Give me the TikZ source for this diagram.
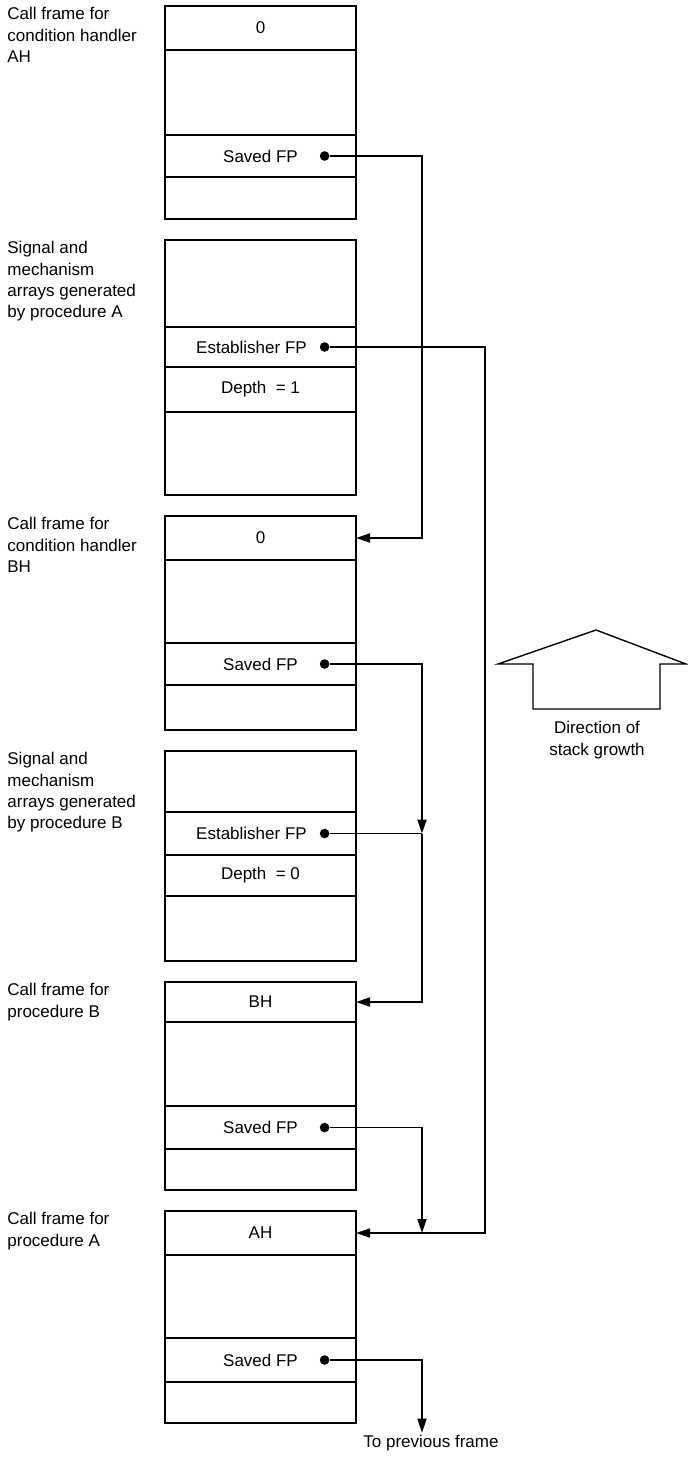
\documentclass[tikz,border=0pt]{standalone}
\usepackage{fontspec}
\setmainfont{Liberation Sans}
\usetikzlibrary{arrows.meta, positioning, calc}
\tikzset{
  cell/.style = {rectangle, draw, line width=0.9pt, minimum width=95.5pt,
                 inner sep=0pt, outer sep=0pt},
  lbl/.style  = {align=left, inner sep=0pt, anchor=north west},
  arr/.style  = {-{Triangle[length=7pt, width=4.5pt]}, line width=0.9pt},
  dot/.style  = {circle, fill, inner sep=0pt, minimum size=4.8pt},
}

\begin{document}
\begin{tikzpicture}[
  font=\fontsize{8.5}{10.7}\selectfont,
  node distance=10.5pt,
  link/.style={line width=0.9pt},
]
  \useasboundingbox (0,0) rectangle (343.5pt,-728.5pt);
  \coordinate (lx) at (3.5pt,0);

  % call frame for handler AH
  \node[cell, minimum height=22pt, anchor=north west] (ha1) at (82.5pt,-3pt) {0};
  \node[cell, minimum height=42.5pt, below=0pt of ha1] (ha2) {};
  \node[cell, minimum height=21pt, below=0pt of ha2] (ha3) {Saved FP};
  \node[cell, minimum height=21pt, below=0pt of ha3] (ha4) {};

  % signal/mechanism arrays of A
  \node[cell, minimum height=43.5pt, below=of ha4] (sa1) {};
  \node[cell, minimum height=20pt, below=0pt of sa1,
        label={[xshift=-4.5pt]center:Establisher FP}] (sa2) {};
  \node[cell, minimum height=22.5pt, below=0pt of sa2] (sa3) {Depth \ = 1};
  \node[cell, minimum height=41.5pt, below=0pt of sa3] (sa4) {};

  % call frame for handler BH
  \node[cell, minimum height=22pt, below=of sa4] (hb1) {0};
  \node[cell, minimum height=41.5pt, below=0pt of hb1] (hb2) {};
  \node[cell, minimum height=21pt, below=0pt of hb2] (hb3) {Saved FP};
  \node[cell, minimum height=22.5pt, below=0pt of hb3] (hb4) {};

  % signal/mechanism arrays of B
  \node[cell, minimum height=30.5pt, below=of hb4] (sb1) {};
  \node[cell, minimum height=21.5pt, below=0pt of sb1,
        label={[xshift=-4.5pt]center:Establisher FP}] (sb2) {};
  \node[cell, minimum height=20.5pt, below=0pt of sb2] (sb3) {Depth \ = 0};
  \node[cell, minimum height=32.5pt, below=0pt of sb3] (sb4) {};

  % call frame for procedure B
  \node[cell, minimum height=20pt, below=of sb4] (pb1) {BH};
  \node[cell, minimum height=42pt, below=0pt of pb1] (pb2) {};
  \node[cell, minimum height=21.5pt, below=0pt of pb2] (pb3) {Saved FP};
  \node[cell, minimum height=20.5pt, below=0pt of pb3] (pb4) {};

  % call frame for procedure A
  \node[cell, minimum height=22pt, below=of pb4] (pa1) {AH};
  \node[cell, minimum height=41.5pt, below=0pt of pa1] (pa2) {};
  \node[cell, minimum height=22pt, below=0pt of pa2] (pa3) {Saved FP};
  \node[cell, minimum height=20.5pt, below=0pt of pa3] (pa4) {};

  \node[lbl] (lha) at ([yshift=-0.5pt]ha1.north -| lx) {Call frame for\\condition handler\\AH};
  \node[lbl] (lsa) at ([yshift=-0.5pt]sa1.north -| lx) {Signal and\\mechanism\\arrays generated\\by procedure A};
  \node[lbl] (lhb) at ([yshift=-0.5pt]hb1.north -| lx) {Call frame for\\condition handler\\BH};
  \node[lbl] (lsb) at ([yshift=-0.5pt]sb1.north -| lx) {Signal and\\mechanism\\arrays generated\\by procedure B};
  \node[lbl] (lpb) at ([yshift=-0.5pt]pb1.north -| lx) {Call frame for\\procedure B};
  \node[lbl] (lpa) at ([yshift=-0.5pt]pa1.north -| lx) {Call frame for\\procedure A};

  \node[dot, left=13.1pt of ha3.east] (d1) {};
  \node[dot, left=13.1pt of sa2.east] (d2) {};
  \node[dot, left=13.1pt of hb3.east] (d3) {};
  \node[dot, left=13.1pt of sb2.east] (d4) {};
  \node[dot, left=13.1pt of pb3.east] (d5) {};
  \node[dot, left=13.1pt of pa3.east] (d6) {};

  \coordinate (c1) at ([xshift=33pt]ha1.east);
  \coordinate (c2) at ([xshift=64.5pt]ha1.east);
  \coordinate (j1) at (d4 -| c1);
  \coordinate (j2) at (pa1.east -| c1);

  \node[inner sep=1pt] (prev) at ([xshift=4.5pt, yshift=-10pt]pa4.south -| c1) {To previous frame};

  \draw[arr] (d1) -| (hb1.east -| c1) -- (hb1.east);
  \draw[arr] (d2) -| (pa1.east -| c2) -- (pa1.east);
  \draw[arr] (d3) -| (j1);
  \draw[link] (d4) -- (j1);
  \draw[arr] (j1) |- (pb1.east);
  \draw[arr] (d5) -| (j2);
  \draw[arr] (d6) -| (prev.north -| c1);

  % direction of stack growth
  \draw[line width=0.7pt] (249pt,-332pt) -- (298pt,-315pt) -- (343pt,-332pt)
    -- (330pt,-332pt) -- (330pt,-354.5pt) -- (266.5pt,-354.5pt)
    -- (266.5pt,-332pt) -- cycle;
  \coordinate (gb) at (298.5pt,-354.5pt);
  \node[align=center, inner sep=0pt, below=6pt of gb] (growth) {Direction of\\stack growth};
\end{tikzpicture}
\end{document}
